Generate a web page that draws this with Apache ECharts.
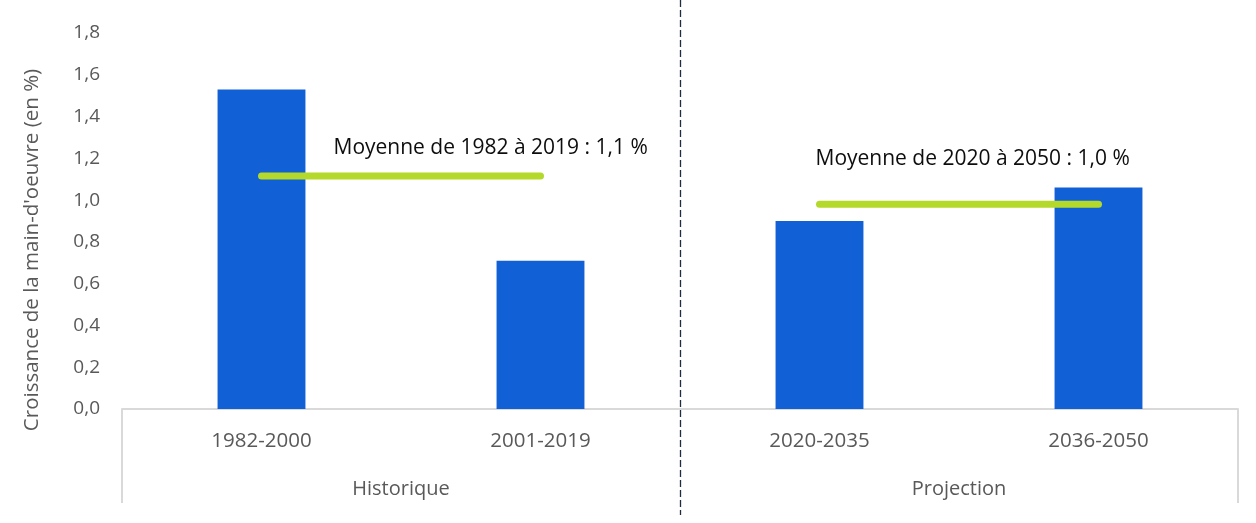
<!DOCTYPE html>
<html>
<head>
<meta charset="utf-8">
<script src="https://cdn.jsdelivr.net/npm/echarts@6/dist/echarts.min.js"></script>
<style>
html,body{margin:0;padding:0;background:#fff;}
#chart{width:1256px;height:523px;}
</style>
</head>
<body>
<div id="chart"></div>
<script>
const categories = ['1982-2000', '2001-2019', '2020-2035', '2036-2050'];
const groups = ['Historique', 'Projection'];
const growth = [1.53, 0.71, 0.90, 1.06];
const avgHistorique = [1.115, 1.115, null, null];
const avgProjection = [null, null, 0.98, 0.98];
const avgLabels = ['Moyenne de 1982 à 2019 : 1,1 %', 'Moyenne de 2020 à 2050 : 1,0 %'];
const yTicks = { min: 0, max: 1.8, interval: 0.2 };
const yTitle = "Croissance de la main-d'oeuvre (en %)";

const FONT = 'Open Sans';
const chart = echarts.init(document.getElementById('chart'), null, { renderer: 'canvas' });

function withLabel(arr, text, offset) {
  const first = arr.findIndex(x => x !== null);
  return arr.map((v, i) => {
    if (v === null) return '-';
    if (i === first) {
      return {
        value: v,
        label: {
          show: true, position: 'top', align: 'left', formatter: text,
          offset: offset, color: '#0d0d0d', fontSize: 21, fontFamily: FONT
        }
      };
    }
    return v;
  });
}

const lineCommon = {
  type: 'line', symbol: 'circle', symbolSize: 1, showSymbol: true,
  itemStyle: { color: 'rgba(0,0,0,0)' },
  connectNulls: false,
  lineStyle: { color: '#b4d92b', width: 7, cap: 'round' }, z: 5
};

chart.setOption({
  animation: false,
  textStyle: { fontFamily: FONT },
  grid: { left: 122, right: 18, top: 33, bottom: 114 },
  xAxis: [
    {
      type: 'category', data: categories, position: 'bottom',
      axisLine: { show: true, lineStyle: { color: '#d9d9d9', width: 2 } },
      axisTick: { show: false },
      axisLabel: { color: '#595959', fontSize: 20.5, margin: 22, fontFamily: FONT }
    },
    {
      type: 'category', data: groups, position: 'bottom',
      axisLine: { show: false },
      axisTick: { show: true, length: 94, interval: 0, lineStyle: { color: '#d9d9d9', width: 2 } },
      axisLabel: { color: '#595959', fontSize: 20, margin: 70, fontFamily: FONT }
    }
  ],
  yAxis: {
    type: 'value', min: yTicks.min, max: yTicks.max, interval: yTicks.interval,
    splitLine: { show: false },
    axisLine: { show: false }, axisTick: { show: false },
    axisLabel: {
      color: '#595959', fontSize: 19, margin: 22, fontFamily: FONT,
      formatter: v => v.toFixed(1).replace('.', ',')
    },
    name: yTitle, nameLocation: 'middle', nameRotate: 90, nameGap: 79,
    nameTextStyle: { color: '#595959', fontSize: 20.5, fontFamily: FONT, padding: [0, 58, 0, 0] }
  },
  series: [
    {
      type: 'bar', data: growth, barWidth: '31.5%',
      itemStyle: { color: '#1160d6' }, z: 2
    },
    Object.assign({}, lineCommon, { data: withLabel(avgHistorique, avgLabels[0], [72, -12]) }),
    Object.assign({}, lineCommon, { data: withLabel(avgProjection, avgLabels[1], [-4, -29]) })
  ]
});

// dashed separator between Historique and Projection, positioned from the category scale
const xa = chart.convertToPixel({ xAxisIndex: 0 }, categories[1]);
const xb = chart.convertToPixel({ xAxisIndex: 0 }, categories[2]);
const xs = Math.round((xa + xb) / 2) + 0.5;
chart.setOption({
  graphic: [{
    type: 'line', z: 100,
    shape: { x1: xs, y1: 0, x2: xs, y2: 515 },
    style: { stroke: '#1f2a44', lineWidth: 1.3, lineDash: [7, 3] }
  }, {
    type: 'line', z: 99,
    shape: { x1: xs, y1: 410, x2: xs, y2: 505 },
    style: { stroke: '#ffffff', lineWidth: 3 }
  }]
});
</script>
</body>
</html>
